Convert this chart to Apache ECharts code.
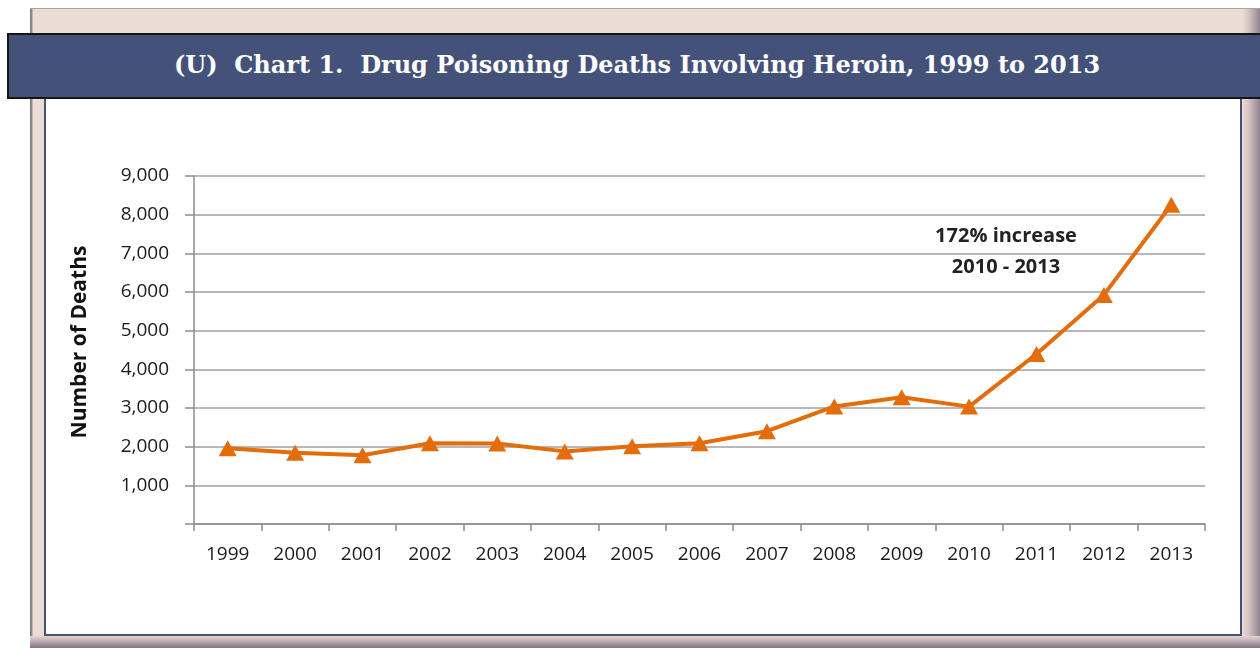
<!DOCTYPE html>
<html>
<head>
<meta charset="utf-8">
<script src="https://cdn.jsdelivr.net/npm/echarts@6/dist/echarts.min.js"></script>
<style>
html,body{margin:0;padding:0;background:#fff;width:1260px;height:648px;overflow:hidden;}
#frame{position:absolute;left:30px;top:8px;width:1230px;height:640px;
  background:linear-gradient(to right,#7d7479 0px,#9a9094 2px,#ecdcd6 3px,#ecdcd6 1212px,#d9c6c4 1218px,#b6a7ad 1224px,#8e8494 1230px);
  border-top:1px solid #a8a4a6;box-sizing:border-box;}
#framebottom{position:absolute;left:30px;top:636px;width:1230px;height:12px;
  background:linear-gradient(to bottom,#e6d4d0 0px,#c9b9bb 4px,#a0949e 8px,#7e7484 12px);}
#inner{position:absolute;left:44px;top:60px;width:1198px;height:576px;background:#fff;
  border:2px solid #44527a;box-sizing:border-box;}
#banner{position:absolute;left:7px;top:33px;width:1260px;height:66px;background:#44527a;
  border:2px solid #151515;box-sizing:border-box;}
#bannertext{position:absolute;left:0;top:33px;width:1274px;height:66px;line-height:64px;text-align:center;
  color:#fff;font-family:"DejaVu Serif",serif;font-weight:bold;font-size:24px;white-space:pre;}
#chart{position:absolute;left:0;top:0;width:1260px;height:648px;}
</style>
</head>
<body>
<div id="frame"></div>
<div id="framebottom"></div>
<div id="inner"></div>
<div id="banner"></div>
<div id="bannertext">(U)  Chart 1.  Drug Poisoning Deaths Involving Heroin, 1999 to 2013</div>
<div id="chart"></div>
<script>
var years = ['1999','2000','2001','2002','2003','2004','2005','2006','2007','2008','2009','2010','2011','2012','2013'];
var deaths = [1960,1842,1779,2089,2080,1878,2009,2088,2399,3041,3278,3036,4397,5925,8257];
var yTicks = [0,1000,2000,3000,4000,5000,6000,7000,8000,9000];
var yAxisTitle = 'Number of Deaths';
var noteLines = ['172% increase','2010 - 2013'];

var chart = echarts.init(document.getElementById('chart'), null, {renderer:'canvas'});
var labelFont = {fontFamily:'"Open Sans",sans-serif', fontSize:19, color:'#1a1a1a'};
chart.setOption({
  animation:false,
  backgroundColor:'transparent',
  grid:{left:194, right:55, top:176, bottom:124, containLabel:false},
  xAxis:{
    type:'category', data:years, boundaryGap:true,
    axisLine:{lineStyle:{color:'#8c8c8c', width:1.5}},
    axisTick:{show:true, alignWithLabel:false, length:7, lineStyle:{color:'#8c8c8c', width:1.5}},
    axisLabel:Object.assign({margin:21}, labelFont),
    splitLine:{show:false}
  },
  yAxis:{
    type:'value', min:yTicks[0], max:yTicks[yTicks.length-1], interval:1000,
    axisLine:{show:true, lineStyle:{color:'#8c8c8c', width:1.5}},
    axisTick:{show:true, inside:false, length:9, lineStyle:{color:'#8c8c8c', width:1.5}},
    axisLabel:Object.assign({margin:25, formatter:function(v){return v===0?'':v.toLocaleString('en-US');}}, labelFont),
    splitLine:{show:true, lineStyle:{color:'#a0a0a0', width:1.5}}
  },
  series:[{
    type:'line', data:deaths,
    lineStyle:{color:'#e46c0a', width:4},
    itemStyle:{color:'#e46c0a'},
    symbol:'triangle', symbolSize:[18,16], showAllSymbol:true
  }],
  graphic:[{
    type:'text', x:1006, y:252,
    style:{text:noteLines.join('\n'), align:'center', verticalAlign:'middle', lineHeight:31,
      font:'bold 20px "Open Sans", sans-serif', fill:'#222'}
  },{
    type:'text', x:80, y:342, rotation:Math.PI/2,
    style:{text:yAxisTitle, align:'center', verticalAlign:'middle',
      font:'bold 21px "Open Sans", sans-serif', fill:'#111'}
  }]
});
</script>
</body>
</html>
